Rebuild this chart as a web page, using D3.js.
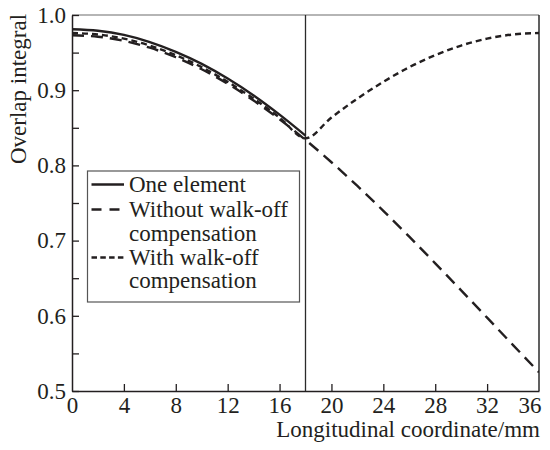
<!DOCTYPE html>
<html>
<head>
<meta charset="utf-8">
<script src="https://cdn.jsdelivr.net/npm/d3@7/dist/d3.min.js"></script>
</head>
<body style="margin:0">
<svg id="fig" width="550" height="450"></svg>
<script>
// Longitudinal coordinate (mm) for the first crystal and for the full length
const xFirst = [0, 2, 4, 6, 8, 10, 12, 14, 16, 18];
const xFull = [0, 2, 4, 6, 8, 10, 12, 14, 16, 18, 20, 22, 24, 26, 28, 30, 32, 34, 36];

// Overlap integral for each configuration
const oneElement = [0.981, 0.979, 0.9735, 0.964, 0.951, 0.935, 0.9155, 0.893, 0.8675, 0.8396];
const withoutComp = [0.973, 0.9711, 0.9656, 0.9565, 0.9438, 0.9278, 0.9085, 0.8863, 0.8613, 0.8339,
                     0.8042, 0.7727, 0.7396, 0.7052, 0.6698, 0.6338, 0.5975, 0.5611, 0.5249];
const withComp = [0.976, 0.9741, 0.9686, 0.9594, 0.9466, 0.9306, 0.9111, 0.8888, 0.8637, 0.836,
                  0.8637, 0.8888, 0.9111, 0.9306, 0.9466, 0.9594, 0.9686, 0.9741, 0.976];

const xTicks = [0, 4, 8, 12, 16, 20, 24, 28, 32, 36];
const yTicks = [0.5, 0.55, 0.6, 0.65, 0.7, 0.75, 0.8, 0.85, 0.9, 0.95, 1.0];
const boundary = 18;

const legendItems = [
  { lines: ["One element"], dash: null },
  { lines: ["Without walk-off", "compensation"], dash: "10,8" },
  { lines: ["With walk-off", "compensation"], dash: "5.5,3.3" }
];

const FONT = '"Liberation Serif"';
const INK = "#231f20";
const svg = d3.select("#fig");
const L = 72, T = 15, R = 539, B = 391;

// serif text in the figure
function serif(sel) {
  return sel.attr("font-family", FONT).attr("font-size", 23).attr("fill", INK)
    .style("font-family", FONT, "important").style("font-size", "23px", "important");
}

const x = d3.scaleLinear().domain([0, 36]).range([L, R]);
const y = d3.scaleLinear().domain([0.5, 1.0]).range([B, T]);

svg.append("defs").append("clipPath").attr("id", "plotClip")
  .append("rect").attr("x", L).attr("y", T).attr("width", R - L).attr("height", B - T);

// Frame: top and right edges
svg.append("line").attr("x1", L).attr("x2", R).attr("y1", T).attr("y2", T)
  .attr("stroke", "#6d6d6d").attr("stroke-width", 1.2);
svg.append("line").attr("x1", R).attr("x2", R).attr("y1", T).attr("y2", B)
  .attr("stroke", "#2b2b2b").attr("stroke-width", 1.5);

// Y axis
const yAxis = d3.axisLeft(y)
  .tickValues(yTicks)
  .tickSizeInner(-7)
  .tickSizeOuter(0)
  .tickPadding(6)
  .tickFormat(d => (Math.round(d * 100) % 10 === 0 ? d3.format(".1f")(d) : ""));
const gy = svg.append("g").attr("transform", `translate(${L},0)`).call(yAxis);
gy.attr("font-family", FONT).attr("font-size", 23);
gy.select(".domain").attr("stroke", INK).attr("stroke-width", 1.5);
gy.selectAll(".tick line").attr("stroke", INK).attr("stroke-width", 1.3);
serif(gy.selectAll(".tick text"));

// X axis
const xAxis = d3.axisBottom(x)
  .tickValues(xTicks)
  .tickSizeInner(-7)
  .tickSizeOuter(0)
  .tickPadding(6)
  .tickFormat(d3.format("d"));
const gx = svg.append("g").attr("transform", `translate(0,${B})`).call(xAxis);
gx.attr("font-family", FONT).attr("font-size", 23);
gx.select(".domain").attr("stroke", INK).attr("stroke-width", 1.5);
gx.selectAll(".tick line").attr("stroke", INK).attr("stroke-width", 1.3)
  .filter(d => d === 0 || d === 36).remove();
serif(gx.selectAll(".tick text"));
gx.selectAll(".tick text").filter(d => d === 36).attr("text-anchor", "end").attr("dx", 2);

// Axis titles
serif(svg.append("text")
  .attr("x", 540).attr("y", 437)
  .attr("text-anchor", "end"))
  .text("Longitudinal coordinate/mm");

serif(svg.append("text")
  .attr("transform", "translate(26,89) rotate(-90)")
  .attr("text-anchor", "middle"))
  .text("Overlap integral");

// Boundary between the two crystals
svg.append("line")
  .attr("x1", x(boundary)).attr("x2", x(boundary))
  .attr("y1", T).attr("y2", B)
  .attr("stroke", "#2b2b2b").attr("stroke-width", 1.3);

// Curves
const plot = svg.append("g").attr("clip-path", "url(#plotClip)");
const line = d3.line().x(d => x(d[0])).y(d => y(d[1])).curve(d3.curveMonotoneX);

plot.append("path")
  .datum(d3.zip(xFull, withoutComp))
  .attr("d", line).attr("fill", "none")
  .attr("stroke", INK).attr("stroke-width", 2.4)
  .attr("stroke-dasharray", "12,7");

plot.append("path")
  .datum(d3.zip(xFull, withComp))
  .attr("d", line).attr("fill", "none")
  .attr("stroke", INK).attr("stroke-width", 2.4)
  .attr("stroke-dasharray", "6,4");

plot.append("path")
  .datum(d3.zip(xFirst, oneElement))
  .attr("d", line).attr("fill", "none")
  .attr("stroke", INK).attr("stroke-width", 2.4);

// Legend
const lg = svg.append("g");
lg.append("rect")
  .attr("x", 87.5).attr("y", 171).attr("width", 212).attr("height", 131)
  .attr("fill", "#fff").attr("stroke", "#555").attr("stroke-width", 1.2);

const baselines = [192, 217, 241, 265, 288];
let row = 0;
legendItems.forEach(item => {
  lg.append("line")
    .attr("x1", 91.5).attr("x2", 124).attr("y1", baselines[row] - 7.5).attr("y2", baselines[row] - 7.5)
    .attr("stroke", INK).attr("stroke-width", 2.4)
    .attr("stroke-dasharray", item.dash);
  item.lines.forEach(t => {
    serif(lg.append("text").attr("x", 129).attr("y", baselines[row])).text(t);
    row++;
  });
});
</script>
</body>
</html>
